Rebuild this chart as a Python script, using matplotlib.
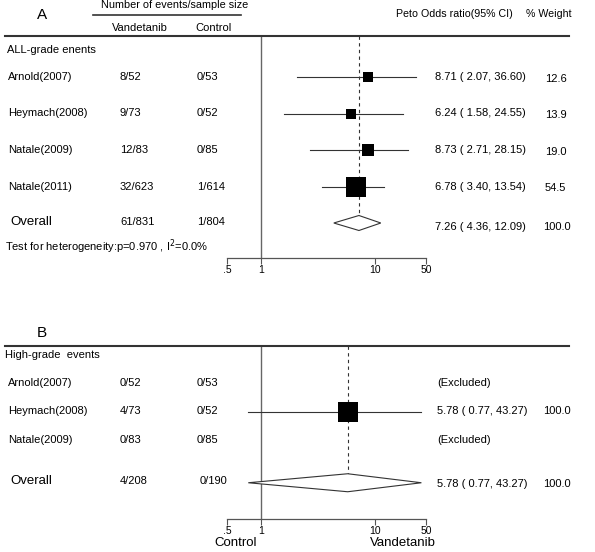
import matplotlib
matplotlib.use("Agg")
import matplotlib.pyplot as plt
import numpy as np
from matplotlib import transforms
from matplotlib.lines import Line2D

plt.rcParams['font.family'] = ['Liberation Sans', 'DejaVu Sans']

# ---------------- data ----------------
studies_a = ["Arnold(2007)", "Heymach(2008)", "Natale(2009)", "Natale(2011)"]
vand_a = ["8/52", "9/73", "12/83", "32/623"]
ctrl_a = ["0/53", "0/52", "0/85", "1/614"]
or_a = [8.71, 6.24, 8.73, 6.78]
lo_a = [2.07, 1.58, 2.71, 3.40]
hi_a = [36.60, 24.55, 28.15, 13.54]
w_a = [12.6, 13.9, 19.0, 54.5]
overall_a = (7.26, 4.36, 12.09)
overall_counts_a = ("61/831", "1/804")
het_text = "Test for heterogeneity:p=0.970 , I$^{2}$=0.0%"

studies_b = ["Arnold(2007)", "Heymach(2008)", "Natale(2009)"]
vand_b = ["0/52", "4/73", "0/83"]
ctrl_b = ["0/53", "0/52", "0/85"]
or_b = [None, 5.78, None]
lo_b = [None, 0.77, None]
hi_b = [None, 43.27, None]
w_b = [None, 100.0, None]
overall_b = (5.78, 0.77, 43.27)
overall_counts_b = ("4/208", "0/190")

xticks = [0.5, 1, 10, 50]
xticklabels = [".5", "1", "10", "50"]

# ---------------- figure ----------------
W, H = 595, 552
fig = plt.figure(figsize=(W / 100, H / 100), dpi=100)
FS = 8


def fx(x):
    return x / W


def fy(y):
    return 1 - y / H


def ftext(x, y, s, **kw):
    kw.setdefault('fontsize', FS)
    kw.setdefault('va', 'center')
    fig.text(fx(x), fy(y), s, **kw)


def hline(x0, x1, y, lw=1.5, color='#333333'):
    fig.add_artist(Line2D([fx(x0), fx(x1)], [fy(y), fy(y)], lw=lw, color=color,
                          transform=fig.transFigure))


def fmt(e, l, h):
    return f"{e:.2f} ( {l:.2f}, {h:.2f})"


# log axis whose decade above 10 is drawn compressed, as in the original figure
K = 0.646


def fwd(v):
    L = np.log10(np.clip(v, 1e-6, None))
    return np.where(L <= 1, L, 1 + (L - 1) * K)


def inv(u):
    u = np.asarray(u, dtype=float)
    return np.where(u <= 1, 10 ** u, 10 ** (1 + (u - 1) / K))


def make_axes(top_px, bottom_px, first_row_px, row_px):
    left, right = 227, 426
    ax = fig.add_axes([fx(left), fy(bottom_px), (right - left) / W, (bottom_px - top_px) / H])
    ax.set_xscale('function', functions=(fwd, inv))
    ax.set_xlim(0.5, 50)
    ytop = -(first_row_px - top_px) / row_px
    ybot = (bottom_px - first_row_px) / row_px
    ax.set_ylim(ybot, ytop)
    ax.patch.set_visible(False)
    for s in ['top', 'right', 'left']:
        ax.spines[s].set_visible(False)
    ax.spines['bottom'].set_color('#555555')
    ax.spines['bottom'].set_linewidth(0.9)
    ax.set_yticks([])
    ax.set_xticks(xticks)
    ax.set_xticklabels(xticklabels, fontsize=7.5)
    ax.xaxis.set_minor_locator(matplotlib.ticker.NullLocator())
    ax.tick_params(axis='x', length=4, width=0.8, color='#555555', pad=1)
    ax.axvline(1, color='#666666', lw=1.0)
    return ax, ytop


def diamond(ax, est, lo, hi, y, h):
    ax.fill([lo, est, hi, est, lo], [y, y - h, y, y + h, y],
            facecolor='white', edgecolor='#333333', lw=0.8, zorder=3)


# ---------------- Panel A ----------------
ftext(42, 15, "A", fontsize=11, ha='center')
ftext(175, 5, "Number of events/sample size", fontsize=7.8, ha='center')
hline(93, 241, 15, lw=1.2)
ftext(140, 28, "Vandetanib", ha='center')
ftext(213, 28, "Control", ha='center')
ftext(396, 14, "Peto Odds ratio(95% CI)", fontsize=7.7)
ftext(526, 14, "% Weight", fontsize=7.7)
hline(5, 569, 36)
ftext(7, 50, "ALL-grade enents")

axA, ytopA = make_axes(36, 258, 77, 36.5)
trA = transforms.blended_transform_factory(fig.transFigure, axA.transData)
for i in range(len(studies_a)):
    axA.plot([lo_a[i], hi_a[i]], [i, i], color='#333333', lw=0.8, zorder=2)
    side = 2.83 * w_a[i] ** 0.5 / 1.389
    axA.scatter([or_a[i]], [i], marker='s', s=side ** 2, color='black', zorder=4, linewidths=0)
    fig.text(fx(8), i, studies_a[i], transform=trA, fontsize=FS, va='center')
    fig.text(fx(120), i, vand_a[i], transform=trA, fontsize=FS, va='center')
    fig.text(fx(197), i, ctrl_a[i], transform=trA, fontsize=FS, va='center')
    fig.text(fx(435), i, fmt(or_a[i], lo_a[i], hi_a[i]), transform=trA, fontsize=FS, va='center')
    fig.text(fx(545), i + 0.05, f"{w_a[i]:.1f}", transform=trA, fontsize=FS, va='center')

yo = len(studies_a)
hA = 7.5 / 36.5
diamond(axA, *overall_a, yo, hA)
axA.plot([overall_a[0], overall_a[0]], [ytopA, yo - hA], color='#333333', lw=0.8,
         ls=(0, (3, 3)), zorder=1)
fig.text(fx(10), yo - 0.03, "Overall", transform=trA, fontsize=9.5, va='center')
fig.text(fx(120), yo - 0.03, overall_counts_a[0], transform=trA, fontsize=FS, va='center')
fig.text(fx(197), yo - 0.03, overall_counts_a[1], transform=trA, fontsize=FS, va='center')
fig.text(fx(435), yo + 0.1, fmt(*overall_a), transform=trA, fontsize=FS, va='center')
fig.text(fx(543), yo + 0.1, "100.0", transform=trA, fontsize=FS, va='center')
ftext(5, 247, het_text)

# ---------------- Panel B ----------------
ftext(42, 333, "B", fontsize=11, ha='center')
hline(5, 569, 346)
ftext(5, 355, "High-grade  events")

axB, ytopB = make_axes(346, 519, 383, 28.5)
trB = transforms.blended_transform_factory(fig.transFigure, axB.transData)
for i in range(len(studies_b)):
    fig.text(fx(8), i, studies_b[i], transform=trB, fontsize=FS, va='center')
    fig.text(fx(120), i, vand_b[i], transform=trB, fontsize=FS, va='center')
    fig.text(fx(197), i, ctrl_b[i], transform=trB, fontsize=FS, va='center')
    if or_b[i] is None:
        fig.text(fx(437), i, "(Excluded)", transform=trB, fontsize=FS, va='center')
    else:
        axB.plot([lo_b[i], hi_b[i]], [i, i], color='#333333', lw=0.8, zorder=2)
        side = 2.0 * w_b[i] ** 0.5 / 1.389
        axB.scatter([or_b[i]], [i], marker='s', s=side ** 2, color='black', zorder=4, linewidths=0)
        fig.text(fx(437), i, fmt(or_b[i], lo_b[i], hi_b[i]), transform=trB, fontsize=FS, va='center')
        fig.text(fx(543), i, f"{w_b[i]:.1f}", transform=trB, fontsize=FS, va='center')

yob = 3.5
hB = 9 / 28.5
diamond(axB, *overall_b, yob, hB)
axB.plot([overall_b[0], overall_b[0]], [ytopB, yob - hB], color='#333333', lw=0.8,
         ls=(0, (3, 3)), zorder=1)
fig.text(fx(10), yob - 0.05, "Overall", transform=trB, fontsize=9.5, va='center')
fig.text(fx(120), yob - 0.05, overall_counts_b[0], transform=trB, fontsize=FS, va='center')
fig.text(fx(200), yob - 0.05, overall_counts_b[1], transform=trB, fontsize=FS, va='center')
fig.text(fx(437), yob + 0.05, fmt(*overall_b), transform=trB, fontsize=FS, va='center')
fig.text(fx(543), yob + 0.05, "100.0", transform=trB, fontsize=FS, va='center')

ftext(236, 543, "Control", fontsize=9.5, ha='center')
ftext(403, 543, "Vandetanib", fontsize=9.5, ha='center')

fig.savefig("out.png", dpi=100)
